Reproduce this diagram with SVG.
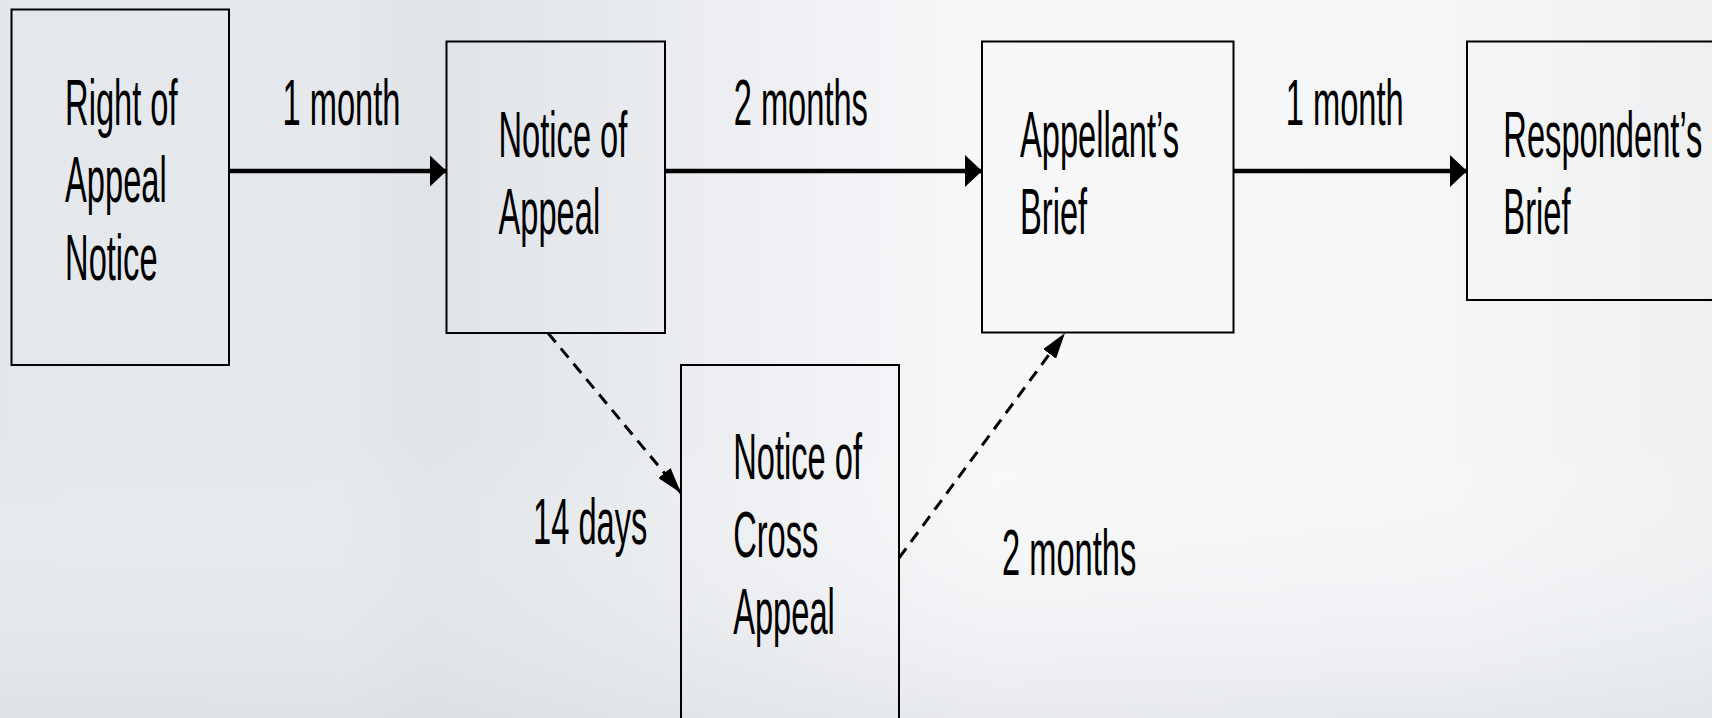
<svg xmlns="http://www.w3.org/2000/svg" width="1712" height="718" viewBox="0 0 1712 718">
  <defs>
    <linearGradient id="bgH" x1="0" y1="0" x2="1" y2="0">
      <stop offset="0" stop-color="#e4e8ec"/>
      <stop offset="0.2" stop-color="#e5e8ec"/>
      <stop offset="0.25" stop-color="#e0e4e8"/>
      <stop offset="0.3" stop-color="#e3e6ea"/>
      <stop offset="0.42" stop-color="#eceef1"/>
      <stop offset="0.58" stop-color="#f8f8fa"/>
      <stop offset="0.85" stop-color="#f5f6f8"/>
      <stop offset="1" stop-color="#eef0f2"/>
    </linearGradient>
    <linearGradient id="bgV" x1="0" y1="0" x2="0" y2="1">
      <stop offset="0" stop-color="#ffffff" stop-opacity="0"/>
      <stop offset="0.6" stop-color="#ffffff" stop-opacity="0"/>
      <stop offset="1" stop-color="#d8dce1" stop-opacity="0.5"/>
    </linearGradient>
    <marker id="head" markerUnits="userSpaceOnUse" viewBox="0 0 17 32" refX="17" refY="16" markerWidth="17" markerHeight="32" orient="auto">
      <path d="M0,0 L17,16 L0,32 z" fill="#000"/>
    </marker>
    <marker id="headD" markerUnits="userSpaceOnUse" viewBox="0 0 26 16" refX="26" refY="8" markerWidth="26" markerHeight="16" orient="auto">
      <path d="M0,0 L26,8 L0,16 z" fill="#000"/>
    </marker>
  </defs>
  <style>
    .box { fill: none; stroke: #000; stroke-width: 2; }
    .t { font-family: "Liberation Sans", Arial, sans-serif; font-size: 64px; fill: #000; }
    .solid { stroke: #000; stroke-width: 4.5; fill: none; marker-end: url(#head); }
    .dash { stroke: #000; stroke-width: 3; fill: none; stroke-dasharray: 12 8; marker-end: url(#headD); }
  </style>

  <rect x="0" y="0" width="1712" height="718" fill="url(#bgH)"/>
  <rect x="0" y="0" width="1712" height="718" fill="url(#bgV)"/>

  <g id="connectors">
    <line class="solid" x1="229" y1="171" x2="446.5" y2="171"/>
    <line class="solid" x1="665" y1="171" x2="982" y2="171"/>
    <line class="solid" x1="1233.5" y1="171" x2="1467" y2="171"/>
    <line class="dash" x1="548" y1="333" x2="681" y2="493"/>
    <line class="dash" x1="899" y1="558" x2="1065" y2="333"/>
    <g id="edge-labels" class="t">
      <text transform="scale(0.51 1)" x="553.9" y="125">1 month</text>
      <text transform="scale(0.51 1)" x="1438.6" y="125">2 months</text>
      <text transform="scale(0.51 1)" x="2521.2" y="125">1 month</text>
      <text transform="scale(0.51 1)" x="1045.3" y="544">14 days</text>
      <text transform="scale(0.51 1)" x="1964.7" y="575">2 months</text>
    </g>
  </g>

  <g id="node-right-of-appeal-notice">
    <rect class="box" x="11.5" y="9.5" width="217.5" height="355.5"/>
    <text class="t" transform="scale(0.51 1)" y="125"><tspan x="127.6">Right of</tspan><tspan x="127.6" y="202.5">Appeal</tspan><tspan x="127.6" y="280">Notice</tspan></text>
  </g>

  <g id="node-notice-of-appeal">
    <rect class="box" x="446.5" y="41.5" width="218.5" height="291.5"/>
    <text class="t" transform="scale(0.51 1)" y="156.7"><tspan x="977.5">Notice of</tspan><tspan x="977.5" y="234.5">Appeal</tspan></text>
  </g>

  <g id="node-appellants-brief">
    <rect class="box" x="982" y="41.5" width="251.5" height="291"/>
    <text class="t" transform="scale(0.51 1)" y="156.7"><tspan x="2000">Appellant’s</tspan><tspan x="2000" y="234.5">Brief</tspan></text>
  </g>

  <g id="node-respondents-brief">
    <rect class="box" x="1467" y="41.5" width="263" height="258.5"/>
    <text class="t" transform="scale(0.51 1)" y="156.7"><tspan x="2947.8">Respondent’s</tspan><tspan x="2947.8" y="234.5">Brief</tspan></text>
  </g>

  <g id="node-notice-of-cross-appeal">
    <rect class="box" x="681" y="365" width="218" height="365"/>
    <text class="t" transform="scale(0.51 1)" y="479.3"><tspan x="1437.6">Notice of</tspan><tspan x="1437.6" y="557.3">Cross</tspan><tspan x="1437.6" y="634.5">Appeal</tspan></text>
  </g>
</svg>
